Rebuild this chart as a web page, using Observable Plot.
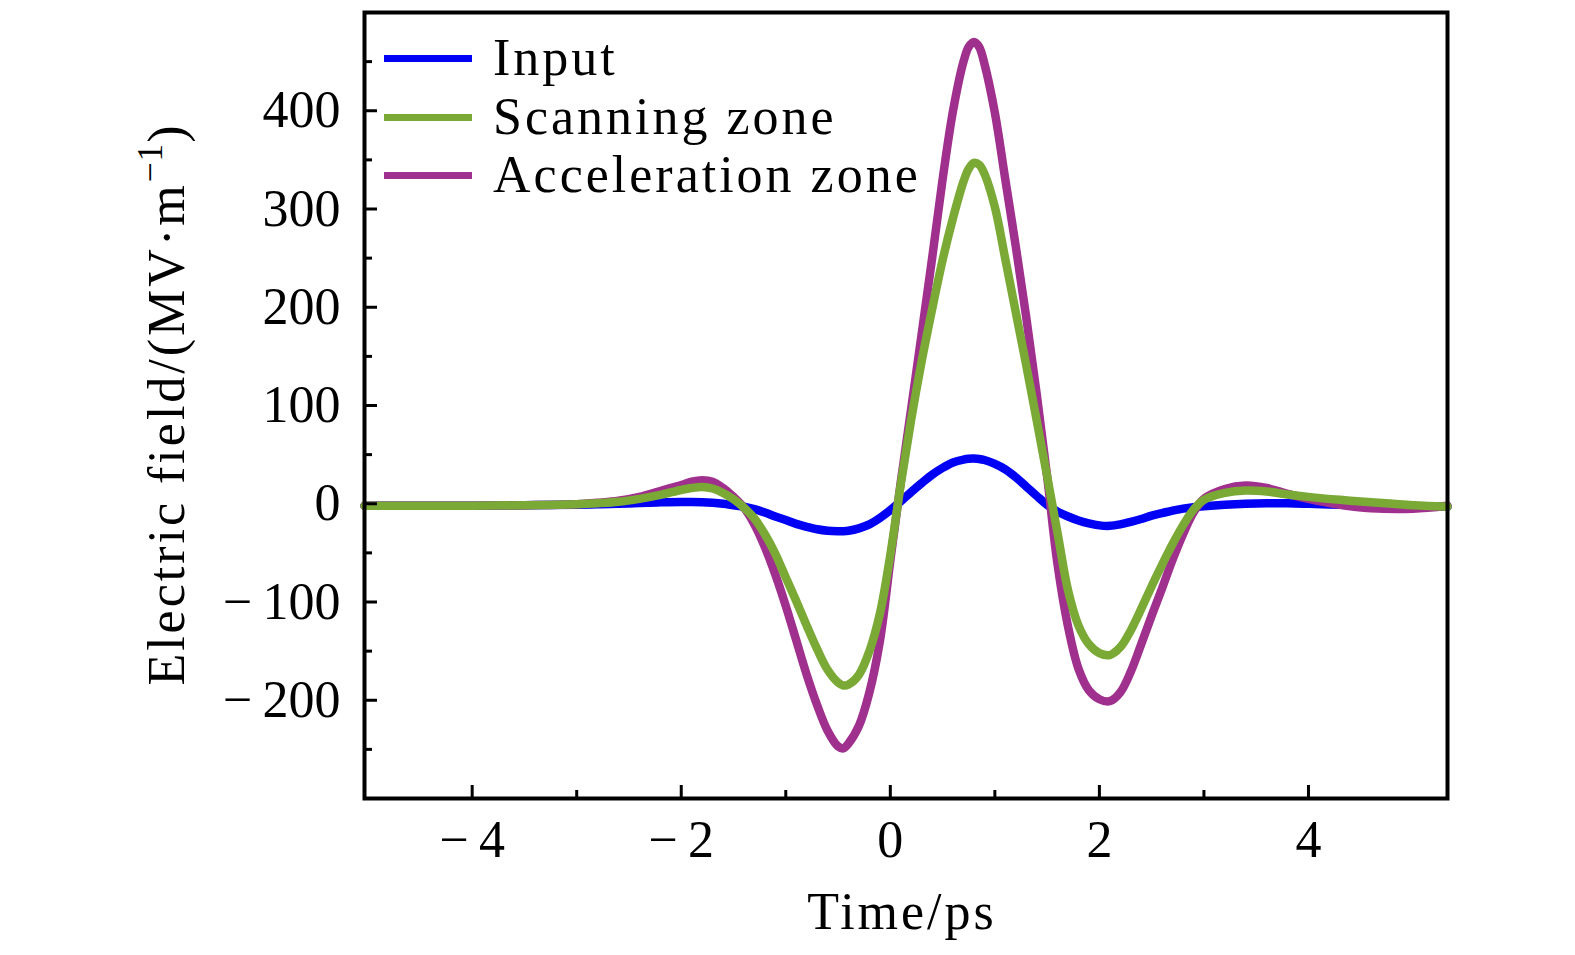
<!DOCTYPE html>
<html>
<head>
<meta charset="utf-8">
<script src="https://cdn.jsdelivr.net/npm/d3@7"></script>
<script src="https://cdn.jsdelivr.net/npm/@observablehq/plot@0.6"></script>
<style>
  html, body { margin: 0; padding: 0; background: #fff; }
  #wrap { position: relative; width: 1575px; height: 955px; font-family: "Liberation Serif", serif; color: #000; }
  #wrap svg { position: absolute; left: 0; top: 0; }
  .lbl { position: absolute; white-space: nowrap; font-size: 52px; letter-spacing: 3px; line-height: 1; }
  .row { position: absolute; left: 384px; height: 58px; display: flex; align-items: center; font-size: 52px; letter-spacing: 3px; line-height: 58px; white-space: nowrap; }
  .sw { width: 88px; height: 7px; margin-right: 21px; }
  sup { font-size: 0.68em; line-height: 0; position: relative; top: -0.1em; letter-spacing: 1px; }
</style>
</head>
<body>
<div id="wrap"></div>
<script>
// ---- data ----
const timePs = [-5.03, -4.5, -4.0, -3.5, -3.0, -2.8, -2.6, -2.4, -2.2, -2.0, -1.9, -1.8, -1.7, -1.6, -1.5, -1.4, -1.3, -1.2, -1.1, -1.0,
  -0.9, -0.8, -0.7, -0.6, -0.5, -0.45, -0.4, -0.3, -0.2, -0.1, 0.0, 0.1, 0.2, 0.3, 0.4, 0.5, 0.6, 0.7, 0.75, 0.8, 0.85, 0.9, 1.0,
  1.1, 1.2, 1.3, 1.4, 1.5, 1.6, 1.7, 1.8, 1.9, 2.0, 2.1, 2.2, 2.3, 2.4, 2.5, 2.6, 2.7, 2.8, 2.9, 3.0,
  3.2, 3.4, 3.6, 3.8, 4.0, 4.3, 4.6, 5.0, 5.33];

const inputField = [-2, -2, -2, -1.5, -1, -0.5, 0, 0.8, 1.4, 1.8, 1.8, 1.6, 1.0, 0, -1.5, -3, -5.5, -9, -13, -16.5,
  -20.5, -23.5, -26, -27.5, -28, -28, -27.5, -25, -21, -14.5, -6.5, 2.5, 12, 21, 29.5, 36.5, 42, 45, 45.8, 46, 45.6, 44.5, 40.5,
  35, 27, 17.5, 8, -1, -8, -13, -17, -20, -22, -22.5, -21, -18.5, -15.5, -12, -9.5, -7, -5, -3.5, -2.5,
  -1, 0, 0.5, 0.5, 0, -1, -1.5, -2.5, -3];

const scanningField = [-2, -2, -2, -1.5, -0.5, 0.5, 2, 5, 9, 14, 16, 17, 15.5, 11, 4.5, -4, -15, -31, -51, -75,
  -99, -124, -148, -169, -182, -185, -184, -174, -150, -112, -52, 20, 86, 145, 198, 248, 291, 328, 341, 347, 345, 336, 302,
  249, 195, 141, 85, 28, -30, -88, -124, -143, -152, -154, -146, -129, -107, -84, -62, -41, -22, -6, 4,
  11, 13.5, 12.5, 9.5, 7, 4, 1.5, -1.5, -3];

const accelerationField = [-2, -2, -2, -1.5, -0.5, 1, 3, 7, 13, 19, 22.5, 24, 22.5, 16, 7, -4, -21, -44, -72, -104,
  -139, -174, -205, -231, -247, -249, -244, -226, -192, -140, -58, 22, 97, 173, 250, 330, 400, 450, 465, 470, 465, 448, 398,
  330, 262, 190, 112, 28, -62, -125, -168, -190, -199, -201, -192, -171, -143, -114, -86, -57, -31, -9, 5,
  15, 18.5, 16, 10, 5, -1, -4.5, -5, -2];

const seriesNames = ["Input", "Scanning zone", "Acceleration zone"];
const seriesColors = ["#0000f5", "#7aa935", "#a0308e"];

const xMajorTicks = [-4, -2, 0, 2, 4];
const xMinorTicks = [-3, -1, 1, 3];
const yMajorTicks = [-200, -100, 0, 100, 200, 300, 400];
const yMinorTicks = [-250, -150, -50, 50, 150, 250, 350, 450];

// ---- build tables ----
const toRows = (vals) => timePs.map((t, i) => ({t, v: vals[i]}));
const inputRows = toRows(inputField);
const scanRows = toRows(scanningField);
const accRows = toRows(accelerationField);

const fmt = d => d < 0 ? "\u2212\u2009" + (-d) : String(d);

const mL = 364, mR = 128, mT = 12, mB = 157, W = 1575, H = 955;
const frameW = W - mL - mR, frameH = H - mT - mB;

const chart = Plot.plot({
  width: W, height: H,
  marginLeft: mL, marginRight: mR, marginTop: mT, marginBottom: mB,
  x: {domain: [-5.03, 5.33]},
  y: {domain: [-300, 500]},
  style: {fontFamily: "'Liberation Serif', serif", fontSize: "52px", color: "#000", background: "transparent", overflow: "visible"},
  marks: [
    Plot.line(inputRows, {x: "t", y: "v", stroke: seriesColors[0], strokeWidth: 8.5, curve: "catmull-rom"}),
    Plot.line(accRows, {x: "t", y: "v", stroke: seriesColors[2], strokeWidth: 8.5, curve: "catmull-rom"}),
    Plot.line(scanRows, {x: "t", y: "v", stroke: seriesColors[1], strokeWidth: 8.5, curve: "catmull-rom"}),
    // inward ticks
    Plot.ruleX(xMajorTicks, {x: d => d, insetTop: frameH - 13, stroke: "#000", strokeWidth: 3}),
    Plot.ruleX(xMinorTicks, {x: d => d, insetTop: frameH - 8, stroke: "#000", strokeWidth: 3}),
    Plot.ruleY(yMajorTicks, {y: d => d, insetRight: frameW - 13, stroke: "#000", strokeWidth: 3}),
    Plot.ruleY(yMinorTicks, {y: d => d, insetRight: frameW - 8, stroke: "#000", strokeWidth: 3}),
    Plot.axisX({ticks: xMajorTicks, tickSize: 0, tickPadding: 22, tickFormat: fmt, label: null, fontSize: 52}),
    Plot.axisY({ticks: yMajorTicks, tickSize: 0, tickPadding: 24, tickFormat: fmt, label: null, fontSize: 52}),
    Plot.frame({stroke: "#000", strokeWidth: 4})
  ]
});

const wrap = document.getElementById("wrap");
wrap.appendChild(chart);

// axis titles
const xl = document.createElement("div");
xl.className = "lbl";
xl.style.left = "902px"; xl.style.top = "912px";
xl.style.transform = "translate(-50%,-50%)";
xl.textContent = "Time/ps";
wrap.appendChild(xl);

const yl = document.createElement("div");
yl.className = "lbl";
yl.style.left = "167px"; yl.style.top = "404px";
yl.style.transform = "translate(-50%,-50%) rotate(-90deg)";
yl.innerHTML = "Electric field/(MV\u00B7m<sup>\u22121</sup>)";
wrap.appendChild(yl);

// legend
const rowCenters = [58, 117, 175];
seriesNames.forEach((name, i) => {
  const row = document.createElement("div");
  row.className = "row";
  row.style.top = (rowCenters[i] - 29) + "px";
  const sw = document.createElement("span");
  sw.className = "sw";
  sw.style.background = seriesColors[i];
  const tx = document.createElement("span");
  tx.textContent = name;
  row.appendChild(sw); row.appendChild(tx);
  wrap.appendChild(row);
});
</script>
</body>
</html>
